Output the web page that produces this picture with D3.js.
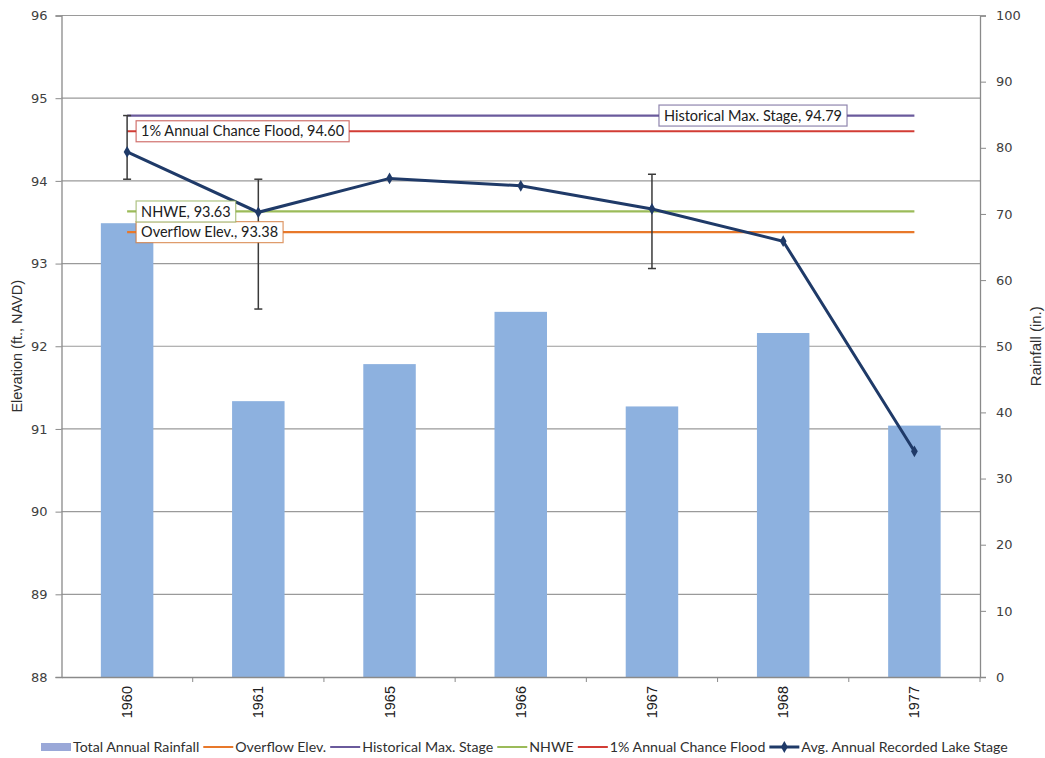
<!DOCTYPE html>
<html><head><meta charset="utf-8">
<script src="https://cdn.jsdelivr.net/npm/d3@7"></script>
<style>body{margin:0;background:#fff}svg{display:block}</style>
</head><body>
<svg id="c" width="1045" height="758"></svg>
<script>
const years = ["1960","1961","1965","1966","1967","1968","1977"];
const rainfall = [68.6, 41.7, 47.3, 55.2, 40.9, 52.0, 38.0];
const lakeStage = [94.35, 93.62, 94.03, 93.94, 93.66, 93.27, 90.73];
const stageHigh = [94.79, 94.02, null, null, 94.08, null, null];
const stageLow  = [94.02, 92.45, null, null, 92.94, null, null];
const refNames  = ["Overflow Elev.", "Historical Max. Stage", "NHWE", "1% Annual Chance Flood"];
const refValues = [93.38, 94.79, 93.63, 94.60];
const refColors = ["#e8782a", "#6a5a9c", "#9bbb59", "#d23c35"];
const refLabelPos = [0, 5.27, 0, 0]; // band index where label sits
const elevTicks = [88, 89, 90, 91, 92, 93, 94, 95, 96];
const rainTicks = [0, 10, 20, 30, 40, 50, 60, 70, 80, 90, 100];

const svg = d3.select("#c");
const L = 61.5, R = 980, T = 15.5, B = 677;
const x = d3.scaleBand().domain(years).range([L, R]).padding(0);
const yE = d3.scaleLinear().domain([88, 96]).range([B, T]);
const yR = d3.scaleLinear().domain([0, 100]).range([B, T]);
const cx = d => x(d) + x.bandwidth() / 2;

// gridlines
svg.append("g").selectAll("line").data(elevTicks.slice(1)).join("line")
  .attr("x1", L).attr("x2", R).attr("y1", d => yE(d)).attr("y2", d => yE(d))
  .attr("stroke", "#9a9a9a").attr("stroke-width", 1.2);

// bars
const bw = x.bandwidth() * 0.4;
svg.append("g").selectAll("rect").data(years).join("rect")
  .attr("x", d => cx(d) - bw / 2).attr("width", bw)
  .attr("y", (d, i) => yR(rainfall[i])).attr("height", (d, i) => B - yR(rainfall[i]))
  .attr("fill", "#8db1df");

// axes
const axL = svg.append("g").attr("transform", `translate(${L},0)`)
  .call(d3.axisLeft(yE).tickValues(elevTicks).tickSize(6).tickPadding(8).tickFormat(d3.format("d")));
const axR = svg.append("g").attr("transform", `translate(${R},0)`)
  .call(d3.axisRight(yR).tickValues(rainTicks).tickSize(6).tickPadding(10).tickFormat(d3.format("d")));
const axB = svg.append("g").attr("transform", `translate(0,${B})`)
  .call(d3.axisBottom(x).tickSize(0).tickPadding(8));
[axL, axR, axB].forEach(a => {
  a.select(".domain").attr("stroke", "#8a8a8a").attr("stroke-width", 1.3);
  a.selectAll(".tick line").attr("stroke", "#8a8a8a");
  a.selectAll("text").attr("fill", "#404040").style("font-family", "'DejaVu Sans', Verdana, sans-serif").style("font-size", "13px");
});
axB.selectAll(".tick text").attr("transform", "rotate(-90)").attr("text-anchor", "end")
  .attr("dy", "0.35em").attr("x", -9).attr("y", 0)
  .style("font-family", "'Liberation Sans', Arial, sans-serif").style("font-size", "14.5px").attr("fill", "#202020");
// small category separator ticks
svg.append("g").selectAll("line").data(years).join("line")
  .attr("x1", d => x(d) + x.bandwidth()).attr("x2", d => x(d) + x.bandwidth())
  .attr("y1", B).attr("y2", B + 5).attr("stroke", "#8a8a8a");

// axis titles
svg.append("text").attr("transform", `translate(22,${(T + B) / 2}) rotate(-90)`)
  .attr("text-anchor", "middle").style("font-family", "'Liberation Sans Narrow','Liberation Sans',Arial,sans-serif")
  .style("font-size", "14.5px").attr("fill", "#303030").text("Elevation (ft., NAVD)");
svg.append("text").attr("transform", `translate(1041,${(T + B) / 2}) rotate(-90)`)
  .attr("text-anchor", "middle").style("font-family", "'Liberation Sans Narrow','Liberation Sans',Arial,sans-serif")
  .style("font-size", "15px").attr("fill", "#303030").text("Rainfall (in.)");

// reference lines
const x0 = cx(years[0]), x1 = cx(years[years.length - 1]);
svg.append("g").selectAll("line").data(refValues).join("line")
  .attr("x1", x0).attr("x2", x1).attr("y1", d => yE(d)).attr("y2", d => yE(d))
  .attr("stroke", (d, i) => refColors[i]).attr("stroke-width", 2.2);

// error bars
const eb = svg.append("g").attr("stroke", "#3a3a3a").attr("stroke-width", 1.5);
years.forEach((yr, i) => {
  if (stageHigh[i] == null) return;
  const c = cx(yr);
  eb.append("line").attr("x1", c).attr("x2", c).attr("y1", yE(stageHigh[i])).attr("y2", yE(stageLow[i]));
  eb.append("line").attr("x1", c - 4).attr("x2", c + 4).attr("y1", yE(stageHigh[i])).attr("y2", yE(stageHigh[i]));
  eb.append("line").attr("x1", c - 4).attr("x2", c + 4).attr("y1", yE(stageLow[i])).attr("y2", yE(stageLow[i]));
});

// lake stage line
const line = d3.line().x((d, i) => cx(years[i])).y(d => yE(d));
svg.append("path").datum(lakeStage).attr("d", line).attr("fill", "none")
  .attr("stroke", "#1f3a68").attr("stroke-width", 3);
svg.append("g").selectAll("path").data(lakeStage).join("path")
  .attr("d", d3.symbol(d3.symbolDiamond, 40))
  .attr("transform", (d, i) => `translate(${cx(years[i])},${yE(d)})`)
  .attr("fill", "#1f3a68");

// labels for reference lines
const lblFont = "Lato, 'Open Sans', sans-serif";
refNames.forEach((n, i) => {
  const g = svg.append("g");
  const t = g.append("text").text(`${n}, ${refValues[i].toFixed(2)}`)
    .style("font-family", lblFont).style("font-size", "14.5px").attr("fill", "#202020")
    .attr("dy", "0.35em");
  const w = t.node().getComputedTextLength();
  let bx;
  if (refLabelPos[i] === 0) bx = x0 + 9;
  else bx = x(years[0]) + x.bandwidth() * refLabelPos[i] - (w + 10) / 2;
  const yy = yE(refValues[i]);
  g.insert("rect", "text").attr("x", bx).attr("y", yy - 10.5).attr("width", w + 10).attr("height", 21)
    .attr("fill", "#fff").attr("stroke", d3.color(refColors[i]).darker(0.3)).attr("stroke-opacity", 0.7).attr("stroke-width", 1.2);
  t.attr("x", bx + 5).attr("y", yy);
});

// legend
const leg = svg.append("g").attr("transform", "translate(41,747)");
const items = [{ name: "Total Annual Rainfall", type: "bar", color: "#9aa8d8" }]
  .concat(refNames.map((n, i) => ({ name: n, type: "line", color: refColors[i] })))
  .concat([{ name: "Avg. Annual Recorded Lake Stage", type: "marker", color: "#1f3a68" }]);
let lx = 0;
items.forEach(it => {
  const g = leg.append("g").attr("transform", `translate(${lx},0)`);
  if (it.type === "bar") g.append("rect").attr("x", 0).attr("y", -4).attr("width", 30).attr("height", 8).attr("fill", it.color);
  else {
    g.append("line").attr("x1", 0).attr("x2", 30).attr("y1", 0).attr("y2", 0).attr("stroke", it.color).attr("stroke-width", it.type === "marker" ? 3 : 2);
    if (it.type === "marker") g.append("path").attr("d", d3.symbol(d3.symbolDiamond, 40)).attr("transform", "translate(15,0)").attr("fill", it.color);
  }
  const t = g.append("text").attr("x", 32).attr("dy", "0.35em").text(it.name)
    .style("font-family", lblFont).style("font-size", "14.2px").attr("fill", "#303030");
  lx += 32 + t.node().getComputedTextLength() + 4;
});
</script>
</body></html>
